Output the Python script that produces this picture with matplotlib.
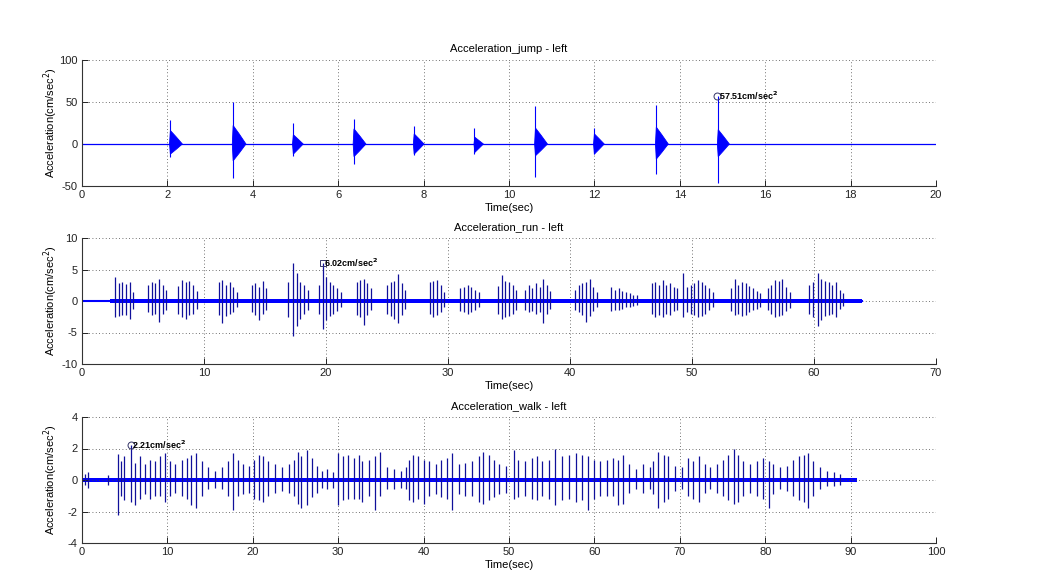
import matplotlib
matplotlib.use('Agg')
import matplotlib.pyplot as plt
import numpy as np

BLUE = '#0000ff'
NAVY = '#10109a'
INK = '#222222'
plt.rcParams.update({'font.family': ['Liberation Sans', 'DejaVu Sans'], 'font.size': 8,
                     'axes.unicode_minus': False,
                     'axes.edgecolor': '#333333', 'xtick.color': INK, 'ytick.color': INK})

# ---- jump: one burst per jump (onset, spike top, spike bottom, ring-down size, ring-down length)
jump_t = [2.05, 3.52, 4.93, 6.35, 7.76, 9.18, 10.60, 11.98, 13.43, 14.88]
jump_hi = [29, 50, 25, 30, 22, 19, 45, 19, 47, 57.51]
jump_lo = [-15, -40, -14, -24, -13, -12, -39, -12, -36, -46]
jump_ring_hi = [16, 22, 11, 18, 12, 8, 19, 12, 20, 17]
jump_ring_lo = [-12, -20, -12, -15, -12, -10, -14, -12, -18, -15]
jump_ring_len = [0.30, 0.32, 0.25, 0.30, 0.25, 0.22, 0.30, 0.25, 0.30, 0.28]
jump_end = 20.0

# ---- run: individual foot strikes
run_t = [2.7, 3.0, 3.3, 3.6, 3.9, 4.2,
         5.4, 5.7, 6.0, 6.3, 6.6, 6.9,
         7.9, 8.2, 8.5, 8.8, 9.1, 9.4,
         11.2, 11.5, 11.8, 12.1, 12.4, 12.7,
         13.9, 14.2, 14.5, 14.8, 15.1,
         16.9, 17.3, 17.6, 17.9, 18.2, 18.5,
         19.4, 19.72, 20.0, 20.3, 20.6, 20.9, 21.2,
         22.5, 22.8, 23.1, 23.4, 23.7,
         25.0, 25.3, 25.6, 25.9, 26.2, 26.5,
         28.5, 28.8, 29.1, 29.4, 29.7,
         31.0, 31.3, 31.6, 31.9, 32.2, 32.5,
         34.1, 34.4, 34.7, 35.0, 35.3, 35.6,
         36.3, 36.6, 36.9, 37.2, 37.5, 37.8, 38.1, 38.4,
         40.4, 40.7, 41.0, 41.3, 41.6, 41.9, 42.2,
         43.4, 43.7, 44.0, 44.3, 44.6, 44.9, 45.2, 45.5,
         46.7, 47.0, 47.3, 47.6, 47.9, 48.2, 48.5, 48.8, 49.25,
         49.6, 49.9, 50.2, 50.5, 50.8, 51.1, 51.4, 51.7,
         53.2, 53.5, 53.8, 54.1, 54.4, 54.7, 55.0, 55.3, 55.6,
         56.2, 56.5, 56.8, 57.1, 57.4, 57.7, 58.0,
         59.6, 59.9, 60.3, 60.6, 60.9, 61.2, 61.5, 61.8, 62.1, 62.4]
run_hi = [3.8, 2.8, 3.0, 2.7, 3.0, 1.5,
          2.5, 3.0, 2.8, 3.5, 2.5, 1.8,
          2.4, 3.3, 3.0, 3.2, 2.6, 1.6,
          3.0, 3.3, 2.5, 3.0, 2.2, 1.5,
          2.5, 2.8, 2.2, 3.2, 2.0,
          3.0, 6.0, 4.5, 3.0, 2.6, 1.8,
          2.5, 6.02, 3.8, 3.0, 2.6, 2.0, 1.5,
          3.0, 3.3, 3.5, 2.8, 2.0,
          2.5, 3.0, 3.2, 4.3, 2.8, 1.8,
          3.0, 3.2, 3.3, 2.5, 1.5,
          2.0, 2.3, 2.5, 2.2, 1.8, 1.4,
          2.4, 4.2, 3.2, 3.0, 2.5, 1.8,
          1.8, 2.5, 2.0, 2.8, 2.2, 3.5, 2.6, 1.6,
          1.8, 2.5, 2.8, 3.0, 3.5, 2.2, 1.5,
          2.2, 1.8, 2.0, 1.6, 1.4, 1.2, 1.0, 0.9,
          2.8, 3.0, 2.5, 3.3, 2.6, 2.8, 2.2, 2.0, 4.4,
          2.2, 2.5, 2.8, 3.4, 3.0, 2.6, 2.0, 1.4,
          2.0, 3.5, 2.5, 3.0, 2.8, 2.4, 2.0, 1.6, 1.2,
          2.0, 2.6, 3.3, 3.2, 3.5, 2.2, 1.5,
          2.5, 3.0, 4.5, 3.5, 3.2, 3.0, 2.6, 3.0, 1.8, 1.2]
run_lo = [-2.5, -2.4, -2.3, -2.2, -2.8, -1.2,
          -1.8, -2.2, -2.0, -3.3, -2.0, -1.5,
          -2.0, -2.5, -2.8, -2.2, -2.0, -1.2,
          -2.3, -3.5, -2.4, -2.0, -1.8, -1.0,
          -1.8, -2.2, -3.0, -2.0, -1.4,
          -2.5, -5.5, -4.0, -2.8, -2.0, -1.4,
          -2.0, -4.5, -3.0, -2.4, -2.0, -1.6, -1.0,
          -2.2, -2.6, -3.8, -2.2, -1.5,
          -2.0, -2.4, -2.8, -3.5, -2.2, -1.3,
          -2.0, -2.5, -2.3, -1.8, -1.0,
          -1.6, -1.8, -2.0, -1.7, -1.4, -1.0,
          -2.0, -2.8, -2.6, -2.4, -2.0, -1.4,
          -1.5, -1.8, -1.6, -2.0, -1.8, -3.5, -2.0, -1.2,
          -1.4, -1.8, -2.2, -3.3, -2.4, -1.6, -1.0,
          -1.6, -1.4, -1.5, -1.2, -1.0, -0.9, -0.8, -0.7,
          -2.0, -2.5, -2.2, -2.6, -2.0, -2.2, -1.6, -1.4, -2.5,
          -1.8, -2.0, -2.2, -2.5, -2.4, -2.0, -1.5, -1.0,
          -1.6, -2.2, -2.0, -2.4, -2.2, -1.8, -1.5, -1.2, -0.9,
          -1.5, -2.0, -2.5, -2.4, -2.2, -1.6, -1.1,
          -2.0, -2.5, -4.0, -3.0, -2.4, -2.2, -2.0, -2.5, -1.2, -0.8]
run_band = 0.35
run_start = 2.3
run_end = 63.9

# ---- walk: individual foot strikes
walk_t = [0.3, 0.7, 3.1,
          4.25, 4.6, 4.9, 5.7, 6.2, 6.8, 7.4, 8.0, 8.5, 9.1, 9.7, 10.3, 10.9, 11.7,
          12.3, 12.8, 13.4, 14.0, 14.8, 15.6, 16.4, 17.1, 17.7, 18.3, 18.9, 19.5,
          20.1, 20.7, 21.2, 21.8, 22.6, 23.4, 24.2, 24.8, 25.3, 25.7, 26.3, 26.9,
          27.5, 28.1, 28.7, 29.4, 30.0, 30.6, 31.2, 31.8, 32.4, 32.8, 33.6, 34.3,
          34.9, 35.7, 36.5, 37.3, 37.9, 38.3, 38.8, 39.4, 40.0, 40.6, 41.4, 42.0,
          42.7, 43.3, 44.1, 44.9, 45.7, 46.5, 47.0, 47.6, 48.2, 48.8, 49.6, 50.6,
          51.1, 51.9, 52.7, 53.3, 53.9, 54.7, 55.4, 56.2, 57.0, 57.8, 58.6, 59.3,
          59.9, 60.7, 61.5, 62.2, 62.8, 63.4, 64.1, 64.9, 65.7, 66.5, 66.9, 67.5,
          68.1, 68.6, 69.4, 70.2, 71.0, 71.6, 72.2, 72.9, 73.5, 74.3, 75.1, 75.7,
          76.3, 76.8, 77.4, 78.2, 79.0, 79.8, 80.4, 80.9, 81.7, 82.5, 83.3, 83.9,
          84.5, 85.0, 85.6, 86.4, 87.2, 88.0, 88.8]
walk_hi = [0.4, 0.5, 0.3,
           1.67, 1.2, 1.5, 2.21, 1.1, 1.5, 1.0, 1.3, 1.2, 1.5, 1.7, 1.2, 1.0, 1.3,
           1.4, 1.6, 1.7, 1.2, 0.8, 0.6, 0.8, 1.2, 1.7, 1.3, 1.0, 0.9,
           1.3, 1.6, 1.5, 1.2, 1.0, 0.8, 1.0, 1.3, 1.8, 1.5, 1.9, 1.4,
           0.9, 0.6, 0.7, 0.5, 1.7, 1.5, 1.6, 1.4, 1.6, 1.2, 1.3, 1.5,
           1.8, 0.8, 0.7, 0.6, 0.8, 1.3, 1.6, 1.5, 1.3, 1.2, 1.0, 1.3,
           1.4, 1.7, 1.0, 1.1, 1.2, 1.5, 1.8, 1.6, 1.3, 1.0, 0.9, 1.9,
           1.3, 1.2, 1.4, 1.5, 1.2, 1.3, 2.0, 1.5, 1.6, 1.7, 1.6, 1.5,
           1.3, 1.2, 1.3, 1.4, 1.3, 1.6, 1.0, 0.7, 1.0, 0.8, 1.2, 1.8,
           1.6, 1.5, 0.9, 0.8, 1.4, 1.2, 1.5, 1.0, 0.8, 1.0, 1.3, 1.6,
           2.0, 1.6, 1.2, 1.0, 1.2, 1.4, 1.2, 1.0, 0.8, 0.9, 1.3, 1.5,
           1.6, 1.7, 1.2, 0.8, 0.6, 0.5, 0.4]
walk_lo = [-0.3, -0.5, -0.3,
           -2.2, -1.0, -1.3, -1.4, -1.6, -1.2, -0.9, -1.2, -1.0, -1.0, -1.4, -1.0, -0.8, -1.0,
           -1.2, -1.6, -1.8, -1.0, -0.6, -0.5, -0.6, -1.0, -1.9, -1.0, -0.9, -0.8,
           -1.2, -1.3, -1.4, -1.0, -0.8, -0.7, -0.8, -1.0, -1.5, -1.8, -1.6, -1.1,
           -0.8, -0.5, -0.6, -0.5, -1.6, -1.3, -1.2, -1.2, -1.2, -1.4, -1.0, -1.9,
           -1.0, -0.6, -0.6, -0.5, -0.6, -1.3, -1.4, -1.2, -1.5, -1.0, -0.9, -1.1,
           -1.2, -1.9, -0.9, -1.0, -1.0, -1.4, -1.5, -1.3, -1.1, -0.9, -0.8, -1.2,
           -1.1, -1.0, -1.2, -1.3, -1.0, -1.2, -1.6, -1.3, -1.2, -1.4, -1.3, -1.9,
           -1.2, -1.0, -1.0, -1.0, -1.6, -1.5, -0.8, -0.6, -0.8, -0.6, -0.9, -1.8,
           -1.4, -1.2, -0.7, -0.6, -1.0, -1.2, -1.4, -0.8, -0.6, -0.8, -1.0, -1.3,
           -1.5, -1.4, -1.0, -0.8, -1.0, -1.2, -1.8, -0.9, -0.6, -0.7, -1.0, -1.3,
           -1.4, -1.8, -1.0, -0.6, -0.4, -0.4, -0.3]
walk_band = 0.15
walk_end = 90.8

# data tips
tips = [(14.88, 57.51, 'o'), (19.72, 6.02, 's'), (5.70, 2.21, 'o')]

fig = plt.figure(figsize=(10.47, 5.79), dpi=100)
L, W, H = 82/1047, 854/1047, 126/579
axes = [fig.add_axes([L, 1-186/579, W, H]),
        fig.add_axes([L, 1-364/579, W, H]),
        fig.add_axes([L, 1-543/579, W, H])]

# jump
ax = axes[0]
ax.plot([0, jump_end], [0, 0], color=BLUE, lw=0.9)
for t, hi, lo, rh, rl, rn in zip(jump_t, jump_hi, jump_lo, jump_ring_hi, jump_ring_lo, jump_ring_len):
    ax.fill([t, t+0.02, t+rn*0.5, t+rn, t+rn*0.5, t+0.02], [0, rh, rh*0.55, 0, rl*0.55, rl],
            color=BLUE, lw=0.6)
    ax.vlines(t+0.01, lo, hi, color=BLUE, lw=0.8)

# run
ax = axes[1]
ax.plot([0, run_end], [0, 0], color=BLUE, lw=1.5)
ax.fill_between([run_start, run_end], [-run_band]*2, [run_band]*2, color=BLUE, lw=0)
ax.vlines(run_t, run_lo, run_hi, color=NAVY, lw=0.9)

# walk
ax = axes[2]
ax.fill_between([0, walk_end], [-walk_band]*2, [walk_band]*2, color=BLUE, lw=0)
ax.vlines(walk_t, walk_lo, walk_hi, color=NAVY, lw=0.9)

titles = ['Acceleration_jump - left', 'Acceleration_run - left', 'Acceleration_walk - left']
xlims = [(0, 20, 2), (0, 70, 10), (0, 100, 10)]
ylims = [(-50, 100, 50), (-10, 10, 5), (-4, 4, 2)]
for ax, title, (x0, x1, dx), (y0, y1, dy), (tx, ty, mk) in zip(axes, titles, xlims, ylims, tips):
    ax.set_xlim(x0, x1); ax.set_ylim(y0, y1)
    ax.set_xticks(np.arange(x0, x1+dx/2, dx)); ax.set_yticks(np.arange(y0, y1+dy/2, dy))
    ax.grid(True, color='#444444', linestyle=(0, (1, 3)), lw=0.6)
    ax.spines[['top', 'right']].set_visible(False)
    ax.spines[['left', 'bottom']].set_linewidth(0.8)
    ax.tick_params(direction='in', length=4, width=0.7, pad=3, labelsize=8)
    ax.set_title(title, fontsize=8, pad=6)
    ax.set_xlabel('Time(sec)', fontsize=8, labelpad=2)
    ax.set_ylabel('Acceleration(cm/sec$^2$)', fontsize=8)
    ax.yaxis.set_label_coords(-0.026, 0.5)
    ax.plot(tx, ty, marker=mk, ms=5, mfc='none', mec='#333366', mew=0.7, zorder=5)
    ax.annotate(f'{ty:.2f}cm/sec$^\\mathbf{{2}}$', (tx, ty), xytext=(1, 0), textcoords='offset points',
                fontsize=6.5, fontweight='bold', va='center', ha='left', zorder=6)

fig.savefig('out.png', dpi=100)
